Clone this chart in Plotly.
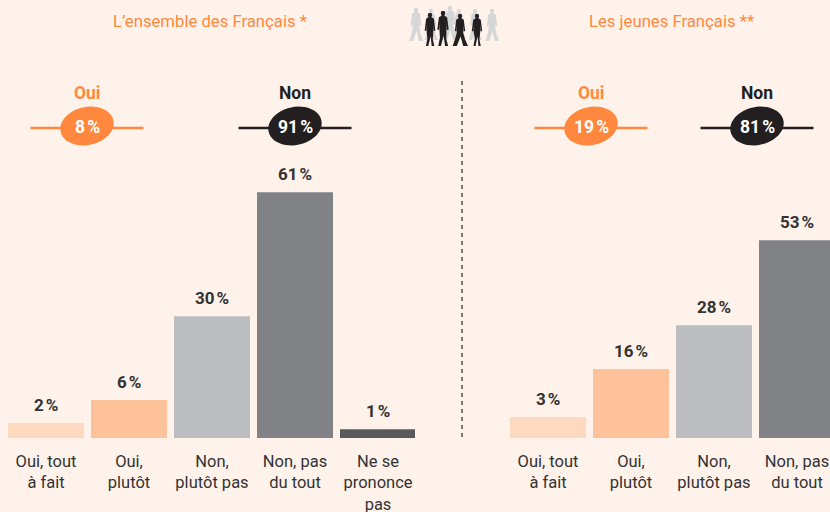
import math
import plotly.graph_objects as go

categories_left = ["Oui, tout<br>à fait", "Oui,<br>plutôt", "Non,<br>plutôt pas", "Non, pas<br>du tout", "Ne se<br>prononce<br>pas"]
labels_left = ["2\u202f%", "6\u202f%", "30\u202f%", "61\u202f%", "1\u202f%"]
heights_left = [3.7, 9.4, 30.2, 61, 2.2]
colors_left = ["#fdd9c0", "#fec29b", "#bcbdc0", "#808285", "#58595b"]

categories_right = ["Oui, tout<br>à fait", "Oui,<br>plutôt", "Non,<br>plutôt pas", "Non, pas<br>du tout"]
labels_right = ["3\u202f%", "16\u202f%", "28\u202f%", "53\u202f%"]
heights_right = [5.2, 17.1, 28, 49.1]
colors_right = ["#fdd9c0", "#fec29b", "#bcbdc0", "#808285"]

ORANGE = "#ff883e"
DARK = "#231f20"
BG = "#fff2eb"
W, H = 830, 512
FONT = "Roboto"
BASE = 438
UNIT = 4.03

fig = go.Figure()
fig.add_bar(x=categories_left, y=heights_left, marker=dict(color=colors_left, line_width=0), width=76/83,
            hoverinfo="skip", xaxis="x", yaxis="y")
fig.add_bar(x=categories_right, y=heights_right, marker=dict(color=colors_right, line_width=0), width=76/83,
            hoverinfo="skip", xaxis="x2", yaxis="y2")

def xa(domain, rng):
    return dict(domain=domain, range=rng, showgrid=False, zeroline=False, showline=False,
                ticks="outside", ticklen=8, tickcolor="rgba(0,0,0,0)", tickangle=0,
                tickfont=dict(family=FONT, size=16.5, color="#333333"), automargin=False)

def ya(anchor):
    return dict(domain=[(H-BASE)/H, 1], range=[0, BASE/UNIT], visible=False, anchor=anchor, automargin=False)

shapes = []
annots = []

for cats, hs, labs, xr, yr in [(categories_left, heights_left, labels_left, "x", "y"),
                               (categories_right, heights_right, labels_right, "x2", "y2")]:
    for c, h, t in zip(cats, hs, labs):
        annots.append(dict(xref=xr, yref=yr, x=c, y=h, text=t, showarrow=False, yshift=18,
                           xanchor="center", yanchor="middle",
                           font=dict(family=FONT, size=17, color="#333333", weight="bold")))

def ann(x, y, text, color, size, bold=False):
    annots.append(dict(xref="paper", yref="paper", x=x/W, y=1-y/H, text=text, showarrow=False,
                       xanchor="center", yanchor="middle",
                       font=dict(family=FONT, size=size, color=color, weight="bold" if bold else "normal")))

def line(x0, x1, y, color, width=2.5, dash=None, y1=None):
    shapes.append(dict(type="line", xref="paper", yref="paper", x0=x0/W, x1=x1/W, y0=1-y/H,
                       y1=1-(y if y1 is None else y1)/H, line=dict(color=color, width=width, dash=dash or "solid"), layer="below"))

def blob(cx, cy, rx, ry, color, tilt=-12):
    t = math.radians(tilt)
    pts = []
    for i in range(48):
        a = 2*math.pi*i/48
        px = rx*math.cos(a); py = ry*math.sin(a)
        X = cx + px*math.cos(t) - py*math.sin(t)
        Y = cy + px*math.sin(t) + py*math.cos(t)
        pts.append(f"{X/W:.5f},{1-Y/H:.5f}")
    shapes.append(dict(type="path", xref="paper", yref="paper", path="M" + " L".join(pts) + " Z", fillcolor=color, line_width=0))

for cx, head, val, col in [(87, "Oui", "8\u202f%", ORANGE), (295, "Non", "91\u202f%", DARK),
                           (591, "Oui", "19\u202f%", ORANGE), (757, "Non", "81\u202f%", DARK)]:
    line(cx-56.5, cx+56.5, 128, col)
    blob(cx, 126, 27, 19, col)
    ann(cx, 93, head, col, 17.5, True)
    ann(cx, 127, val, "white", 17.5, True)

line(462, 462, 81, "#333333", 1.3, "4px,4px", 438)
ann(210, 21, "L’ensemble des Français *", ORANGE, 16.7)
ann(671, 21, "Les jeunes Français **", ORANGE, 16.7)

# small crowd pictogram
def person(cx, top, bottom, color, stride=1.0):
    s = (bottom-top)/34
    def p(dx, dy):
        return f"{(cx+dx*s)/W:.5f},{1-(top+dy*s)/H:.5f}"
    body = [(-1.5,0),(1.5,0),(2.2,2),(1.5,4.5),(4,6),(5.5,18),(3.8,18.5),(3.2,12),(3.4,20),
            (3.2*stride,27),(5*stride,34),(2*stride,34),(0.6,24),(-2*stride,34),(-4.6*stride,34),(-3*stride,26),
            (-3.4,20),(-3.2,12),(-3.8,18.5),(-5.5,18),(-4,6),(-1.5,4.5),(-2.2,2)]
    shapes.append(dict(type="path", xref="paper", yref="paper", fillcolor=color, line_width=0,
                       path="M" + " L".join(p(*q) for q in body) + " Z"))

for cx, top, bottom in [(416, 8, 41), (431, 9, 40), (450, 6, 40), (459, 9, 38), (475, 9, 40), (492, 9, 41)]:
    person(cx, top, bottom, "#d5d6d7", 1.5)
for cx, top, bottom, st in [(430, 13, 46, 0.9), (443, 11, 46, 1.0), (460, 14, 46, 1.7), (477, 14, 46, 0.8)]:
    person(cx, top, bottom, DARK, st)

fig.update_layout(
    width=W, height=H, margin=dict(l=0, r=0, t=0, b=0), autosize=False,
    paper_bgcolor=BG, plot_bgcolor="rgba(0,0,0,0)", showlegend=False, barmode="overlay",
    xaxis=xa([0, 0.5], [(0-46)/83, (415-46)/83]),
    xaxis2=xa([0.5, 1], [(415-548)/83, (830-548)/83]),
    yaxis=ya("x"), yaxis2=ya("x2"),
    shapes=shapes, annotations=annots,
)
fig.write_html("out.html", config=dict(displayModeBar=False),
               post_script="document.body.style.margin='0';document.body.style.overflow='hidden';document.body.style.background='#fff2eb';")
